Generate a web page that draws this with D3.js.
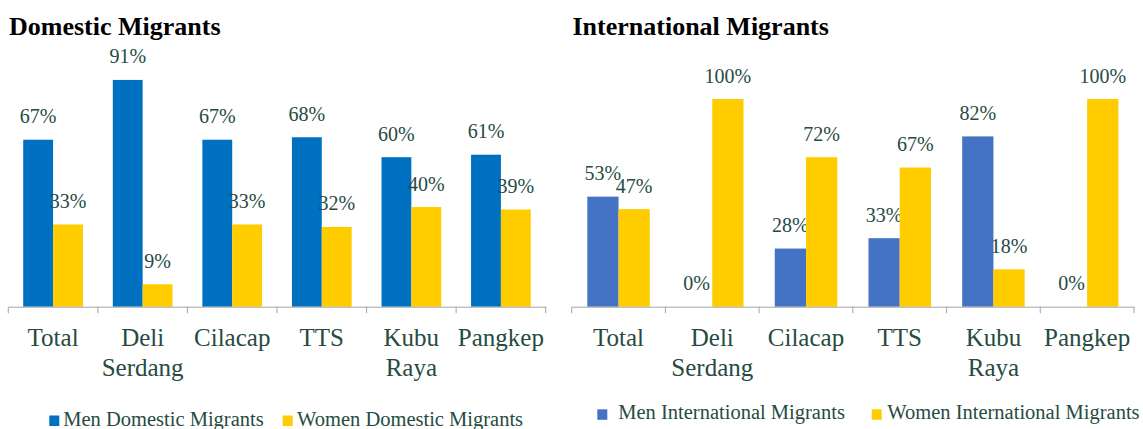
<!DOCTYPE html>
<html>
<head>
<meta charset="utf-8">
<script src="https://cdn.jsdelivr.net/npm/d3@7"></script>
<style>
  body { margin: 0; background: #fff; }
  svg { display: block; font-family: "Liberation Serif", "DejaVu Serif", serif; }
</style>
</head>
<body>
<svg id="chart" width="1143" height="429"></svg>
<script>
// categories shared by both panels
var categories = ["Total", "Deli Serdang", "Cilacap", "TTS", "Kubu Raya", "Pangkep"];

// Domestic migrants (share of men / women)
var domesticMen   = [0.67, 0.91, 0.67, 0.68, 0.60, 0.61];
var domesticWomen = [0.33, 0.09, 0.33, 0.32, 0.40, 0.39];

// International migrants
var intlMen   = [0.53, 0.00, 0.28, 0.33, 0.82, 0.00];
var intlWomen = [0.47, 1.00, 0.72, 0.67, 0.18, 1.00];

var textColor = "#264b42";
var svg = d3.select("#chart");

function drawPanel(opt) {
    var g = svg.append("g");

    // title
    g.append("text")
        .attr("x", opt.titleX)
        .attr("y", 35)
        .attr("font-size", 26)
        .attr("font-weight", "bold")
        .attr("fill", "#000")
        .text(opt.title);

    var x = d3.scaleBand()
        .domain(categories)
        .range(opt.xRange)
        .padding(0);
    var bw = x.bandwidth();
    var xs = d3.scaleBand()
        .domain(["men", "women"])
        .range([bw / 6, bw * 5 / 6]);

    var y = d3.scaleLinear()
        .domain([0, opt.yMax])
        .range([306.7, 57.5]);

    var rows = categories.map(function(c, i) {
        return {cat: c, men: opt.men[i], women: opt.women[i]};
    });

    var series = [
        {key: "men", color: opt.menColor},
        {key: "women", color: opt.womenColor}
    ];

    series.forEach(function(s) {
        g.selectAll("rect." + s.key)
            .data(rows)
            .enter()
            .append("rect")
                .attr("class", s.key)
                .attr("x", d => x(d.cat) + xs(s.key))
                .attr("y", d => y(d[s.key]))
                .attr("width", xs.bandwidth())
                .attr("height", d => y(0) - y(d[s.key]))
                .attr("fill", s.color);

        // value labels
        g.selectAll("text.lbl-" + s.key)
            .data(rows)
            .enter()
            .append("text")
                .attr("class", "lbl-" + s.key)
                .attr("x", d => x(d.cat) + xs(s.key) + xs.bandwidth() / 2)
                .attr("y", d => y(d[s.key]) - 16.5)
                .attr("text-anchor", "middle")
                .attr("font-size", 20)
                .attr("fill", textColor)
                .text(d => Math.round(d[s.key] * 100) + "%");
    });

    // axis line + category boundary ticks
    var axis = d3.axisBottom(x).tickSize(0).tickSizeOuter(0).tickFormat("");
    var ax = g.append("g")
        .attr("transform", "translate(0," + y(0) + ")")
        .call(axis);
    ax.select(".domain").attr("stroke", "#a6a6a6");
    var bounds = categories.map(c => x(c)).concat([opt.xRange[1]]);
    ax.selectAll("line.bound")
        .data(bounds)
        .enter()
        .append("line")
            .attr("class", "bound")
            .attr("x1", d => d).attr("x2", d => d)
            .attr("y1", 0).attr("y2", 6.5)
            .attr("stroke", "#a6a6a6");

    // category labels (wrapped on spaces)
    categories.forEach(function(c) {
        var t = g.append("text")
            .attr("x", x(c) + bw / 2)
            .attr("y", 345.7)
            .attr("text-anchor", "middle")
            .attr("font-size", 25)
            .attr("fill", textColor);
        c.split(" ").forEach(function(w, k) {
            t.append("tspan")
                .attr("x", x(c) + bw / 2)
                .attr("dy", k === 0 ? 0 : 30.5)
                .text(w);
        });
    });

    // legend
    var lg = opt.legend;
    [0, 1].forEach(function(i) {
        g.append("rect")
            .attr("x", lg.sq[i]).attr("y", lg.y - 10)
            .attr("width", 10).attr("height", 10.5)
            .attr("fill", series[i].color);
        g.append("text")
            .attr("x", lg.tx[i]).attr("y", lg.y)
            .attr("font-size", 20.5)
            .attr("fill", textColor)
            .text(lg.labels[i]);
    });
}

drawPanel({
    title: "Domestic Migrants",
    titleX: 9,
    xRange: [8.3, 545.7],
    yMax: 1.0,
    men: domesticMen,
    women: domesticWomen,
    menColor: "#0070c0",
    womenColor: "#ffcc00",
    legend: {
        y: 425.5,
        sq: [49.3, 282.7],
        tx: [63.3, 297],
        labels: ["Men Domestic Migrants", "Women Domestic Migrants"]
    }
});

drawPanel({
    title: "International Migrants",
    titleX: 572.5,
    xRange: [571.7, 1134],
    yMax: 1.2,
    men: intlMen,
    women: intlWomen,
    menColor: "#4472c4",
    womenColor: "#ffcc00",
    legend: {
        y: 419.3,
        sq: [597.3, 871.7],
        tx: [618.3, 887.3],
        labels: ["Men International Migrants", "Women International Migrants"]
    }
});
</script>
</body>
</html>
